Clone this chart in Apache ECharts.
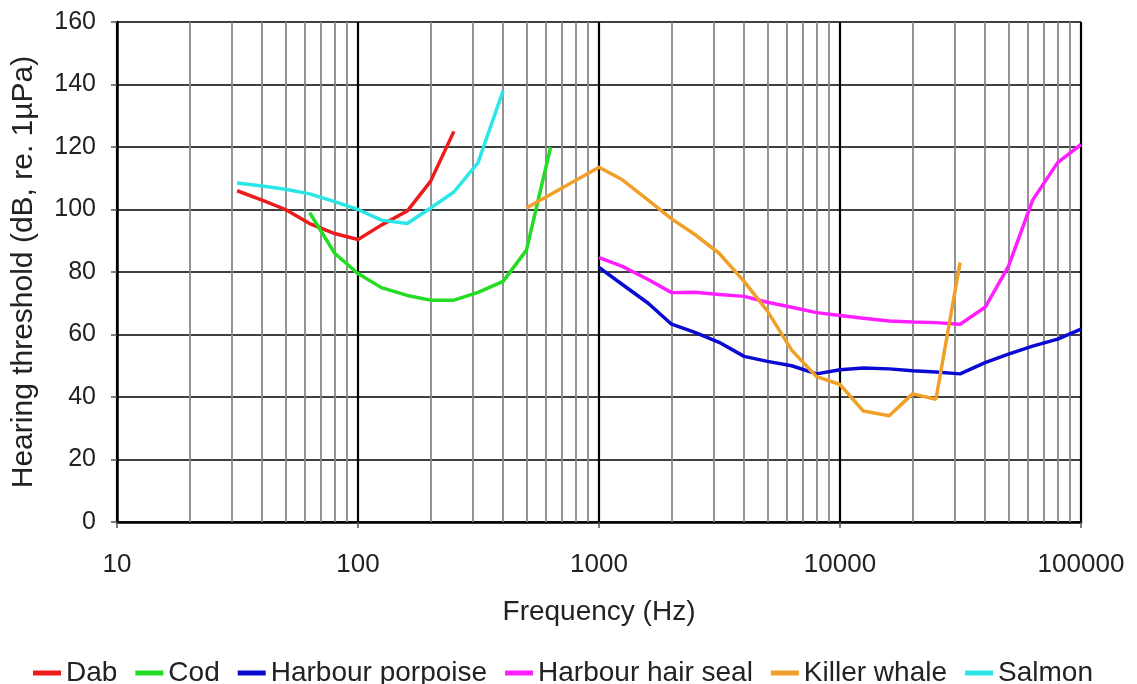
<!DOCTYPE html>
<html>
<head>
<meta charset="utf-8">
<script src="https://cdn.jsdelivr.net/npm/echarts@6/dist/echarts.min.js"></script>
<style>
  html, body { margin: 0; padding: 0; background: #fff; }
  #chart { width: 1137px; height: 684px; }
</style>
</head>
<body>
<div id="chart"></div>
<script>
// hearing thresholds (Hz, dB re 1µPa)
const dabFreq = [31.5, 40, 50, 63, 80, 100, 125, 160, 200, 250]
const dabLevel = [106, 103, 100, 95.5, 92.3, 90.4, 95, 99.5, 109, 125]

const codFreq = [63, 80, 100, 125, 160, 200, 250, 315, 400, 500, 630]
const codLevel = [99, 86, 79.5, 75, 72.5, 71, 71, 73.5, 77, 87, 120]

const porpoiseFreq = [1000, 1250, 1600, 2000, 2500, 3150, 4000, 5000, 6300, 8000, 10000,
  12500, 16000, 20000, 25000, 31500, 40000, 50000, 63000, 80000, 100000]
const porpoiseLevel = [81.5, 76, 70, 63.3, 60.7, 57.5, 53, 51.4, 50, 47.4, 48.7,
  49.3, 49, 48.4, 48, 47.4, 51, 53.7, 56.3, 58.5, 61.7]

const sealFreq = [1000, 1250, 1600, 2000, 2500, 3150, 4000, 5000, 6300, 8000, 10000,
  12500, 16000, 20000, 25000, 31500, 40000, 50000, 63000, 80000, 100000]
const sealLevel = [84.6, 81.8, 77.6, 73.4, 73.5, 72.8, 72.2, 70.3, 68.7, 67, 66.1,
  65.2, 64.3, 64, 63.8, 63.3, 68.7, 81.8, 103, 115, 120.8]

const whaleFreq = [500, 1000, 1250, 1600, 2000, 2500, 3150, 4000, 5000, 6300, 8000,
  10000, 12500, 16000, 20000, 25000, 31500]
const whaleLevel = [100.5, 113.5, 109.5, 103, 97, 92, 86, 77, 67.5, 55, 46.5,
  44, 35.5, 34, 41, 39.3, 83]

const salmonFreq = [31.5, 40, 50, 63, 80, 100, 125, 160, 200, 250, 315, 400]
const salmonLevel = [108.5, 107.5, 106.5, 105, 102.5, 100, 96.6, 95.5, 100.5, 105.6, 115, 138]

// minor log grid lines (2..9 of each decade)
const minorFreqs = []
for (const dec of [10, 100, 1000, 10000]) {
  for (let m = 2; m <= 9; m++) minorFreqs.push(m * dec)
}

const species = [
  { name: 'Dab', freq: dabFreq, level: dabLevel, color: '#ec1c1c' },
  { name: 'Cod', freq: codFreq, level: codLevel, color: '#22dd22' },
  { name: 'Harbour porpoise', freq: porpoiseFreq, level: porpoiseLevel, color: '#0a0ad2' },
  { name: 'Harbour hair seal', freq: sealFreq, level: sealLevel, color: '#ff1eff' },
  { name: 'Killer whale', freq: whaleFreq, level: whaleLevel, color: '#f0a028' },
  { name: 'Salmon', freq: salmonFreq, level: salmonLevel, color: '#2ae6e6' }
]

const font = 'Liberation Sans, Arial, sans-serif'
const textColor = '#222'

const chart = echarts.init(document.getElementById('chart'))

const series = species.map(s => ({
  name: s.name,
  type: 'line',
  data: s.freq.map((f, i) => [f, s.level[i]]),
  showSymbol: false,
  symbol: 'none',
  lineStyle: { color: s.color, width: 3.5 },
  itemStyle: { color: s.color },
  z: 3
}))

// grey minor grid drawn as mark lines on an empty series
series.push({
  name: 'minor',
  type: 'line',
  data: [],
  silent: true,
  markLine: {
    silent: true,
    symbol: 'none',
    animation: false,
    label: { show: false },
    lineStyle: { color: '#888', width: 1.8, type: 'solid' },
    emphasis: { disabled: true },
    z: 1,
    data: minorFreqs.map(f => ({ xAxis: f }))
  }
})

chart.setOption({
  animation: false,
  backgroundColor: '#fff',
  textStyle: { fontFamily: font },
  grid: { left: 117, right: 56, top: 22, bottom: 162, containLabel: false },
  legend: {
    data: species.map(s => s.name),
    left: 28,
    top: 654,
    icon: 'rect',
    itemWidth: 28,
    itemHeight: 5,
    itemGap: 18,
    textStyle: { fontSize: 28, color: textColor, fontFamily: font }
  },
  xAxis: {
    type: 'log',
    logBase: 10,
    min: 10,
    max: 100000,
    name: 'Frequency (Hz)',
    nameLocation: 'middle',
    nameGap: 76,
    nameTextStyle: { fontSize: 28, color: textColor, fontFamily: font },
    axisLine: { onZero: false, lineStyle: { color: '#000', width: 2.5 } },
    axisTick: { show: true, length: 6, lineStyle: { color: '#555', width: 1.5 } },
    axisLabel: {
      fontSize: 26, color: textColor, margin: 30, fontFamily: font,
      showMinLabel: true, showMaxLabel: true,
      formatter: v => String(Math.round(v))
    },
    minorTick: { show: false },
    splitLine: { show: true, lineStyle: { color: '#000', width: 2.2 } }
  },
  yAxis: {
    type: 'value',
    min: 0,
    max: 160,
    interval: 20,
    name: 'Hearing threshold (dB, re. 1µPa)',
    nameLocation: 'middle',
    nameGap: 78,
    nameTextStyle: { fontSize: 30, color: textColor, fontFamily: font },
    axisLine: { show: true, lineStyle: { color: '#000', width: 2.5 } },
    axisTick: { show: true, length: 6, lineStyle: { color: '#555', width: 1.5 } },
    axisLabel: { fontSize: 25, color: textColor, margin: 21, fontFamily: font },
    splitLine: { show: true, lineStyle: { color: '#000', width: 1.5 } }
  },
  series: series
})
</script>
</body>
</html>
